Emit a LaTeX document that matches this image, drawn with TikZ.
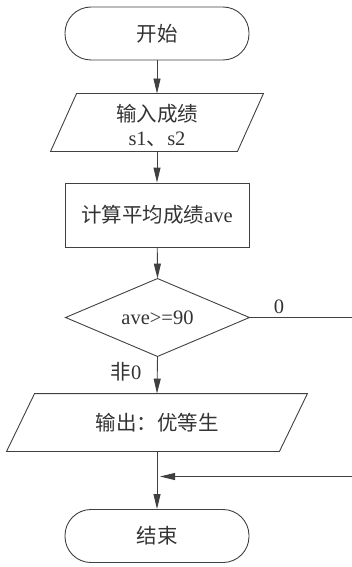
\documentclass[tikz,border=0pt]{standalone}
\usepackage{fontspec}
\setmainfont{Liberation Serif}
\newfontfamily\cjk{Noto Sans CJK SC}
\usetikzlibrary{arrows.meta,calc}
\begin{document}
\begin{tikzpicture}[x=1pt,y=-1pt,
  line width=0.9pt, draw=black!75,
  txt/.style={font=\fontsize{20.5}{24}\selectfont, text=black!80, inner sep=0pt},
  term/.style={txt, draw, rounded corners=26pt, minimum width=184pt, minimum height=53pt},
  proc/.style={txt, draw, minimum width=184pt, minimum height=64pt},
  frame/.style={txt, minimum width=#1, minimum height=57pt},
  arr/.style={-{Triangle[length=15pt,width=7pt]}},
  lbl/.style={font=\fontsize{20.5}{24}\selectfont, text=black!80, inner sep=0pt}]
\useasboundingbox (0,0) rectangle (352,567);

\node[term] (start) at (157,33.5) {\cjk 开始};
\node[frame=212pt] (in) at (157,122.5) {};
\node[txt, align=center] (intxt) at (157,125) {{\cjk 输入成绩}\\[0pt] s1{\cjk 、}s2};
\draw ($(in.north west)+(26,0)$) -- (in.north east) -- ($(in.south east)-(26,0)$) -- (in.south west) -- cycle;
\node[proc] (calc) at (157,215) {{\cjk 计算平均成绩}ave};
\node[txt, minimum width=183pt, minimum height=77pt] (dec) at (157.5,317.5) {ave>=90};
\draw (dec.north) -- (dec.east) -- (dec.south) -- (dec.west) -- cycle;
\node[frame=300pt] (out) at (157,422.5) {{\cjk 输出：优等生}};
\draw ($(out.north west)+(28,0)$) -- (out.north east) -- ($(out.south east)-(28,0)$) -- (out.south west) -- cycle;
\node[term] (end) at (157,536) {\cjk 结束};

\coordinate (j) at (157,476.5);
\coordinate (r1) at (352,317.5);
\coordinate (r2) at (352,476.5);

\draw[arr] (start) -- (in);
\draw[arr] (in) -- (calc);
\draw[arr] (calc) -- (dec.north);
\draw[arr] (dec.south) -- (out.north);
\draw[arr] (out.south) -- (end);
\draw (dec.east) -- (r1);
\draw[arr, shorten >=3pt] (r2) -- (j);

\node[lbl] (l0) at (279,306.5) {0};
\node[lbl] (l1) at (126,372) {{\cjk 非}0};
\end{tikzpicture}
\end{document}
